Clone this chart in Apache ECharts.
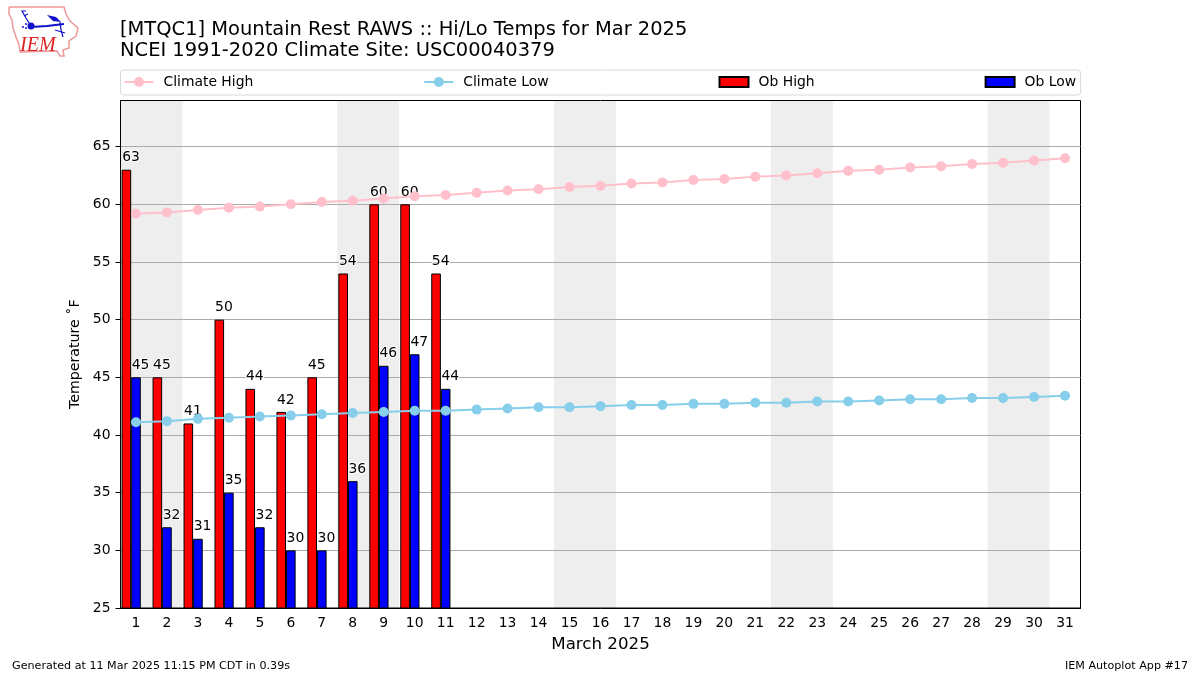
<!DOCTYPE html>
<html><head><meta charset="utf-8">
<style>html,body{margin:0;padding:0;background:#fff}#c{width:1200px;height:675px}</style>
<script src="https://cdn.jsdelivr.net/npm/echarts@6/dist/echarts.min.js"></script>
</head><body><div id="c"></div>
<script>
const days = Array.from({length:31},(_,i)=>String(i+1));
const weekendStarts = [1,8,15,22,29];
const climateHigh = [59.2,59.3,59.5,59.7,59.8,60.0,60.2,60.3,60.5,60.7,60.8,61.0,61.2,61.3,61.5,61.6,61.8,61.9,62.1,62.2,62.4,62.5,62.7,62.9,63.0,63.2,63.3,63.5,63.6,63.8,64.0];
const climateLow = [41.1,41.2,41.4,41.5,41.6,41.7,41.8,41.9,42.0,42.1,42.1,42.2,42.3,42.4,42.4,42.5,42.6,42.6,42.7,42.7,42.8,42.8,42.9,42.9,43.0,43.1,43.1,43.2,43.2,43.3,43.4];
const obHigh = [63,45,41,50,44,42,45,54,60,60,54];
const obLow = [45,32,31,35,32,30,30,36,46,47,44];
const yTicks = [25,30,35,40,45,50,55,60,65];
const FONT = '"DejaVu Sans"';
const PATCH = 'path://M0 0H29V10H0Z';
const barLabel = {show:true,position:'top',distance:5,offset:[4.6,0],color:'#000',fontFamily:FONT,fontSize:13.9,textBorderColor:'#fff',textBorderWidth:2};
const chart = echarts.init(document.getElementById('c'),null,{renderer:'canvas'});
chart.setOption({
  animation:false,
  backgroundColor:'#fff',
  textStyle:{fontFamily:FONT},
  title:[
    {text:'[MTQC1] Mountain Rest RAWS :: Hi/Lo Temps for Mar 2025\nNCEI 1991-2020 Climate Site: USC00040379',left:120,top:19,padding:0,
     textStyle:{fontFamily:FONT,fontSize:19.47,fontWeight:'normal',color:'#000',lineHeight:21.5}},
    {text:'Generated at 11 Mar 2025 11:15 PM CDT in 0.39s',left:12,top:661,padding:0,textStyle:{fontFamily:FONT,fontSize:11.15,fontWeight:'normal',color:'#000'}},
    {text:'IEM Autoplot App #17',right:12,top:661,padding:0,textStyle:{fontFamily:FONT,fontSize:11.15,fontWeight:'normal',color:'#000'}}
  ],
  legend:{
    left:120.5,top:70,padding:[5,4.5,6,3],itemGap:170,itemWidth:29,itemHeight:12.5,
    data:[{name:'Climate High'},{name:'Climate Low'},{name:'Ob High',icon:PATCH},{name:'Ob Low',icon:PATCH}],
    backgroundColor:'#fff',borderColor:'#d8d8d8',borderWidth:1,borderRadius:3,
    textStyle:{fontFamily:FONT,fontSize:13.9,color:'#000',padding:[0,0,0,5]}
  },
  grid:{left:120.5,top:100.5,width:960,height:507.5,show:true,borderColor:'#000',borderWidth:1,backgroundColor:'transparent',containLabel:false},
  xAxis:{
    type:'category',data:days,boundaryGap:true,
    name:'March 2025',nameLocation:'middle',nameGap:28,nameTextStyle:{fontFamily:FONT,fontSize:16.67,color:'#000'},
    axisLine:{lineStyle:{color:'#000',width:1}},
    axisTick:{alignWithLabel:true,length:5,lineStyle:{color:'#000'}},
    axisLabel:{interval:0,fontFamily:FONT,fontSize:13.9,color:'#000',margin:8},
    splitLine:{show:false}
  },
  yAxis:{
    type:'value',min:25,max:69,interval:5,
    name:'Temperature ˚F',nameLocation:'middle',nameGap:35,nameTextStyle:{fontFamily:FONT,fontSize:14.2,color:'#000'},
    axisLine:{show:true,lineStyle:{color:'#000',width:1}},
    axisTick:{show:true,length:5,lineStyle:{color:'#000'},customValues:yTicks},
    axisLabel:{fontFamily:FONT,fontSize:13.9,color:'#000',margin:10,padding:[3,0,0,0],customValues:yTicks},
    splitLine:{show:true,lineStyle:{color:'#ababab',width:1}}
  },
  series:[
    {type:'custom',name:'Weekend',z:-1,silent:true,clip:true,
     data:weekendStarts.map(d=>[String(d)]),encode:{x:0},
     renderItem:(p,api)=>{
       const c=api.coord([api.value(0),25]);const w=api.size([1,0])[0];
       return {type:'rect',shape:{x:c[0]-w/2,y:p.coordSys.y,width:w*2,height:p.coordSys.height},style:{fill:'#eeeeee'}};
     }},
    {type:'bar',name:'Ob High',data:obHigh,barWidth:'31%',barGap:0,z:3,itemStyle:{color:'#ff0000',borderColor:'#000',borderWidth:1},label:barLabel},
    {type:'bar',name:'Ob Low',data:obLow,barWidth:'31%',barGap:0,z:3,itemStyle:{color:'#0000ff',borderColor:'#000',borderWidth:1},label:barLabel},
    {type:'bar',name:'Spacer',data:[],barWidth:'31%',barGap:0,silent:true},
    {type:'line',name:'Climate High',data:climateHigh,z:4,symbol:'circle',symbolSize:10,lineStyle:{color:'#ffc0cb',width:2},itemStyle:{color:'#ffc0cb'}},
    {type:'line',name:'Climate Low',data:climateLow,z:4,symbol:'circle',symbolSize:10,lineStyle:{color:'#87ceeb',width:2},itemStyle:{color:'#87ceeb'}}
  ],
  graphic:[
    {type:'polyline',silent:true,shape:{points:[[9,7],[64,7],[66,14],[70,21],[78,28],[76,36],[69,41],[69,48],[63,50],[64,56],[60,56],[57,51],[20,52],[19,45],[16,37],[13,28],[12,20],[9,14],[9,7]]},style:{fill:'none',stroke:'#e99',lineWidth:1.5}},
    {type:'text',silent:true,style:{x:20,y:36,text:'IEM',fontFamily:'"Liberation Serif"',fontStyle:'italic',fontSize:20,fill:'#d22'}},
    {type:'polyline',silent:true,shape:{points:[[31,27],[47,26],[64,24]]},style:{stroke:'#11c',lineWidth:2,fill:'none'}},
    {type:'polyline',silent:true,shape:{points:[[31,26],[26,18],[22,11],[26,11]]},style:{stroke:'#11c',lineWidth:1.2,fill:'none'}},
    {type:'polyline',silent:true,shape:{points:[[24,16],[28,14]]},style:{stroke:'#11c',lineWidth:1.2,fill:'none'}},
    {type:'circle',silent:true,shape:{cx:31,cy:26,r:3.5},style:{fill:'#11c'}},
    {type:'circle',silent:true,shape:{cx:23,cy:27,r:1},style:{fill:'#11c'}},
    {type:'circle',silent:true,shape:{cx:26,cy:24,r:1},style:{fill:'#11c'}},
    {type:'circle',silent:true,shape:{cx:26,cy:28,r:1},style:{fill:'#11c'}},
    {type:'polygon',silent:true,shape:{points:[[47,15],[56,17],[61,22],[53,21]]},style:{fill:'#11c'}},
    {type:'polyline',silent:true,shape:{points:[[60,22],[61,30],[63,37]]},style:{stroke:'#11c',lineWidth:1.2,fill:'none'}},
    {type:'polyline',silent:true,shape:{points:[[55,30],[65,33]]},style:{stroke:'#11c',lineWidth:1.2,fill:'none'}}
  ]
});
</script></body></html>
